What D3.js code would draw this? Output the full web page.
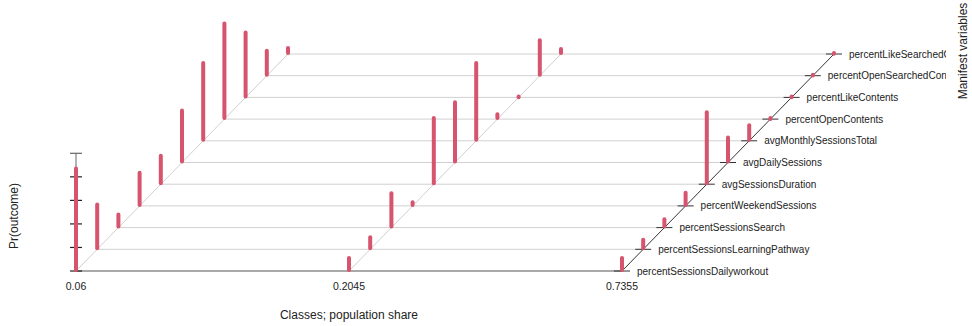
<!DOCTYPE html>
<html>
<head>
<meta charset="utf-8">
<script src="https://cdn.jsdelivr.net/npm/d3@7"></script>
<style>
  html, body { margin: 0; padding: 0; background: #fff; }
  svg { display: block; font-family: "Liberation Sans", Arial, sans-serif; }
</style>
</head>
<body>
<svg id="chart" width="972" height="326"></svg>
<script>
// Latent classes (population share) along the front axis
const classes = ["0.06", "0.2045", "0.7355"];

// Manifest variables, from front row to back row
const variables = [
  "percentSessionsDailyworkout",
  "percentSessionsLearningPathway",
  "percentSessionsSearch",
  "percentWeekendSessions",
  "avgSessionsDuration",
  "avgDailySessions",
  "avgMonthlySessionsTotal",
  "percentOpenContents",
  "percentLikeContents",
  "percentOpenSearchedContents",
  "percentLikeSearchedContents"
];

// Pr(outcome) for each class, one value per manifest variable
const class1 = [0.88, 0.39, 0.12, 0.29, 0.25, 0.45, 0.67, 0.82, 0.56, 0.22, 0.06];
const class2 = [0.12, 0.11, 0.30, 0.04, 0.57, 0.52, 0.67, 0.05, 0.01, 0.31, 0.05];
const class3 = [0.12, 0.09, 0.08, 0.12, 0.62, 0.22, 0.14, 0.01, 0.01, 0.01, 0.01];
const probs = [class1, class2, class3];

const probTicks = [0, 0.2, 0.4, 0.6, 0.8, 1.0];

const svg = d3.select("#chart");

// Front axis: class positions
const x = d3.scalePoint().domain(classes).range([76, 622]);
// Depth axis: each row is shifted right and up
const depthX = d3.scaleLinear().domain([0, variables.length - 1]).range([0, 212]);
const depthY = d3.scaleLinear().domain([0, variables.length - 1]).range([271, 54]);
// Probability height
const h = d3.scaleLinear().domain([0, 1]).range([0, 117.7]);

const lastClass = classes[classes.length - 1];
const px = (c, i) => x(c) + depthX(i);

const g = svg.append("g");

// Long variable names are cut at the plot edge
svg.append("defs").append("clipPath").attr("id", "clip")
  .append("rect").attr("x", 0).attr("y", 0).attr("width", 946).attr("height", 326);

// Horizontal row lines from the first class to the last class
g.selectAll("line.row")
  .data(variables.map((v, i) => i))
  .join("line")
  .attr("class", "row")
  .attr("x1", i => px(classes[0], i))
  .attr("x2", i => px(lastClass, i))
  .attr("y1", i => depthY(i))
  .attr("y2", i => depthY(i))
  .attr("stroke", i => i === 0 ? "#555" : "#d0d0d0")
  .attr("stroke-width", i => i === 0 ? 1.2 : 1);

// Depth lines for each class
g.selectAll("line.depth")
  .data(classes)
  .join("line")
  .attr("class", "depth")
  .attr("x1", c => px(c, 0))
  .attr("y1", depthY(0))
  .attr("x2", c => px(c, variables.length - 1))
  .attr("y2", depthY(variables.length - 1))
  .attr("stroke", c => c === lastClass ? "#333" : "#cfcfcf")
  .attr("stroke-width", 1);

// Small cross ticks on the variable axis
g.selectAll("line.vtick")
  .data(variables.map((v, i) => i))
  .join("line")
  .attr("class", "vtick")
  .attr("x1", i => px(lastClass, i) - 8)
  .attr("x2", i => px(lastClass, i) + 8)
  .attr("y1", i => depthY(i))
  .attr("y2", i => depthY(i))
  .attr("stroke", "#333")
  .attr("stroke-width", 1);

// Vertical probability axis at the first class
const x0 = x(classes[0]);
g.append("line")
  .attr("x1", x0).attr("x2", x0)
  .attr("y1", depthY(0)).attr("y2", depthY(0) - h(1))
  .attr("stroke", "#666");
g.selectAll("line.ptick")
  .data(probTicks)
  .join("line")
  .attr("class", "ptick")
  .attr("x1", x0 - 6).attr("x2", x0 + 6)
  .attr("y1", d => depthY(0) - h(d))
  .attr("y2", d => depthY(0) - h(d))
  .attr("stroke", d => d === 1 ? "#666" : "#222")
  .attr("stroke-width", 1.2);

// Probability bars
const bars = [];
classes.forEach((c, ci) => {
  probs[ci].forEach((p, i) => bars.push({ c, i, p }));
});
g.selectAll("line.bar")
  .data(bars)
  .join("line")
  .attr("class", "bar")
  .attr("x1", d => px(d.c, d.i))
  .attr("x2", d => px(d.c, d.i))
  .attr("y1", d => depthY(d.i) - 1)
  .attr("y2", d => depthY(d.i) - h(d.p) + 1)
  .attr("stroke", "#d6546d")
  .attr("stroke-width", 4)
  .attr("stroke-linecap", "round");

// Class tick labels
g.selectAll("text.cls")
  .data(classes)
  .join("text")
  .attr("class", "cls")
  .attr("x", c => x(c))
  .attr("y", 290)
  .attr("text-anchor", "middle")
  .attr("font-size", 10.5)
  .attr("fill", "#222")
  .text(c => c);

// Variable labels
svg.append("g").attr("clip-path", "url(#clip)")
  .selectAll("text")
  .data(variables)
  .join("text")
  .attr("x", (v, i) => px(lastClass, i) + 15)
  .attr("y", (v, i) => depthY(i))
  .attr("dy", "0.35em")
  .attr("font-size", 10)
  .attr("fill", "#222")
  .text(v => v);

// Axis titles
svg.append("text")
  .attr("x", 349).attr("y", 319)
  .attr("text-anchor", "middle")
  .attr("font-size", 12)
  .attr("fill", "#222")
  .text("Classes; population share");

svg.append("text")
  .attr("transform", "translate(18,216) rotate(-90)")
  .attr("text-anchor", "middle")
  .attr("font-size", 12)
  .attr("fill", "#222")
  .text("Pr(outcome)");

svg.append("text")
  .attr("transform", "translate(967,51) rotate(-90)")
  .attr("text-anchor", "middle")
  .attr("font-size", 12)
  .attr("fill", "#222")
  .text("Manifest variables");
</script>
</body>
</html>
